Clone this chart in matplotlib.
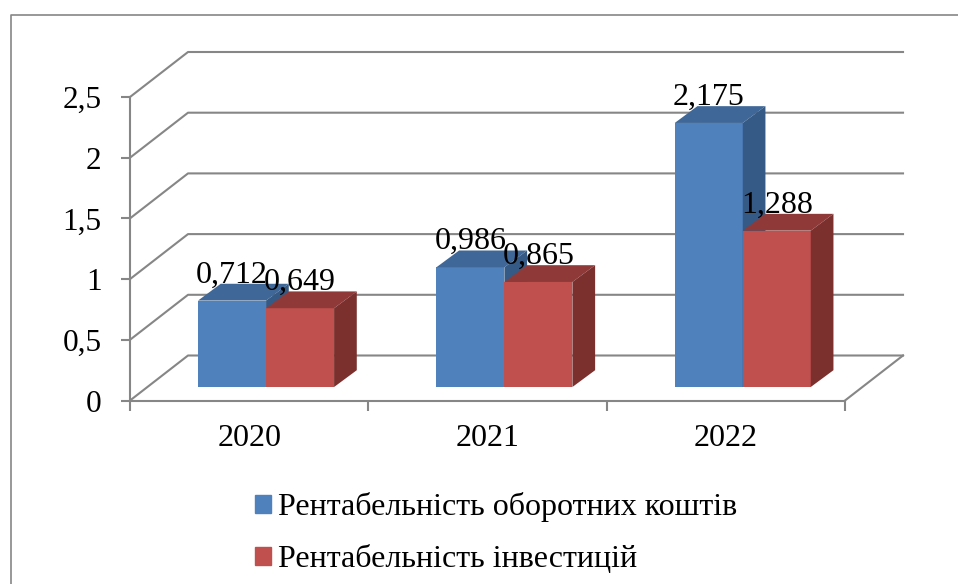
import numpy as np
import matplotlib
matplotlib.use("Agg")
import matplotlib.pyplot as plt
from matplotlib.lines import Line2D
from matplotlib.patches import Patch

years = ["2020", "2021", "2022"]
series_names = ["Рентабельність оборотних коштів", "Рентабельність інвестицій"]
working_capital = [0.712, 0.986, 2.175]
investments = [0.649, 0.865, 1.288]
y_ticks = [0, 0.5, 1, 1.5, 2, 2.5]
y_tick_labels = ["0", "0,5", "1", "1,5", "2", "2,5"]

W, H = 958, 584
GRID = "#868686"
FRONT = ["#4F81BD", "#C0504D"]
TOP = ["#3F6797", "#8F3A38"]
SIDE = ["#355A85", "#7B302E"]

plt.rcParams["font.family"] = ["Liberation Serif", "DejaVu Serif"]

fig = plt.figure(figsize=(W/100, H/100), dpi=100)
ax = fig.add_axes([130/W, 1 - 400.5/H, 715/W, 303.5/H])
ax.set_xlim(0, 3)
ax.set_ylim(0, 2.5)
ax.patch.set_alpha(0)

# depth of the wall and of the bars, in data units
wall_dx, wall_dy = 58/238.3, 45/121.4
bar_dx, bar_dy = 22.7/238.3, 16.8/121.4
lift = 13.5/121.4
shift = 16.9/238.3
width = 68/238.3

# walls and floor
for v in y_ticks:
    ax.plot([0, wall_dx, 3 + wall_dx], [v, v + wall_dy, v + wall_dy], color=GRID, lw=1.5, clip_on=False, zorder=1)
ax.plot([3, 3 + wall_dx], [0, wall_dy], color=GRID, lw=1.5, clip_on=False, zorder=1)

centers = np.arange(len(years)) + 0.5 + shift
for i, values in enumerate([working_capital, investments]):
    xs = centers + (i - 1)*width
    tops = np.array(values) + lift
    ax.bar(xs, values, width, bottom=lift, align="edge", color=FRONT[i], clip_on=False, zorder=3 + i)
    for x, top in zip(xs, tops):
        ax.fill([x, x + bar_dx, x + width + bar_dx, x + width],
                [top, top + bar_dy, top + bar_dy, top], color=TOP[i], lw=0, clip_on=False, zorder=3 + i)
        ax.fill([x + width, x + width + bar_dx, x + width + bar_dx, x + width],
                [top, top + bar_dy, lift + bar_dy, lift], color=SIDE[i], lw=0, clip_on=False, zorder=3 + i)
        ax.annotate(f"{top - lift:.3f}".replace(".", ","), xy=(x + width/2, top), xytext=(0, 13), textcoords="offset points",
                    ha="center", va="baseline", fontsize=23, color="black", zorder=6, annotation_clip=False)

for s in ["top", "right"]:
    ax.spines[s].set_visible(False)
for s in ["left", "bottom"]:
    ax.spines[s].set_color(GRID)
    ax.spines[s].set_linewidth(1.5)

ax.set_yticks(y_ticks)
ax.set_yticklabels(y_tick_labels, fontsize=22.5)
ax.tick_params(axis="y", length=6.5, width=1.5, color=GRID, pad=14)
ax.set_xticks([0, 1, 2, 3])
ax.set_xticklabels([])
ax.set_xticks(np.arange(len(years)) + 0.5, minor=True)
ax.set_xticklabels(years, minor=True, fontsize=23)
ax.tick_params(axis="x", which="major", length=7, width=1.5, color=GRID)
ax.tick_params(axis="x", which="minor", length=0, pad=17)

handles = [Patch(color=c) for c in FRONT]
fig.legend(handles, series_names, loc="upper left", bbox_to_anchor=(255/W, 1 - 492/H), frameon=False,
           fontsize=23, handlelength=0.5, handleheight=0.5, handletextpad=0.235, labelspacing=0.72, borderpad=0, borderaxespad=0)

# outer chart frame, runs off the right and bottom of the crop
fig.add_artist(Line2D([11/W, 11/W, 1], [0, 1 - 15/H, 1 - 15/H], color=GRID, lw=1.2))

fig.savefig("out.png", dpi=100)
